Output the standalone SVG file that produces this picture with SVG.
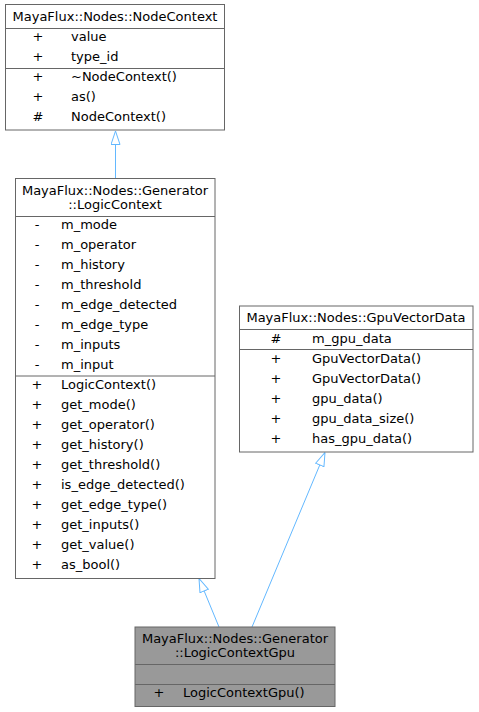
<svg xmlns="http://www.w3.org/2000/svg" width="479" height="712" viewBox="0 0 479 712">
<style>
text{font-family:"DejaVu Sans","Liberation Sans",sans-serif;font-size:13px;fill:#000}
.c{text-anchor:middle}
.box{fill:#fff;stroke:#666;stroke-width:1}
.hl{fill:#999;stroke:#666;stroke-width:1}
.sep{stroke:#666;stroke-width:1}
.edge{fill:none;stroke:#63b8ff;stroke-width:1}
</style>
<defs>
<marker id="inh" viewBox="0 0 14 10" refX="14" refY="5" markerWidth="14" markerHeight="10" markerUnits="userSpaceOnUse" orient="auto">
<path d="M0.5,0.5 L14,5 L0.5,9.5 Z" fill="#fff" stroke="#63b8ff" stroke-width="1"/>
</marker>
</defs>
<rect width="479" height="712" fill="#fff"/>
<g id="connectors">
<line class="edge" x1="115.5" y1="178" x2="115.5" y2="131" marker-end="url(#inh)"/>
<line class="edge" x1="219" y1="627" x2="199" y2="578.5" marker-end="url(#inh)"/>
<line class="edge" x1="252" y1="627" x2="325" y2="452.5" marker-end="url(#inh)"/>
</g>
<g id="NodeContext">
<rect class="box" x="5.5" y="4.5" width="219" height="125.5"/>
<text class="c" x="115" y="21">MayaFlux::Nodes::NodeContext</text>
<line class="sep" x1="5.5" y1="28.5" x2="224.5" y2="28.5"/>
<text class="c" x="38" y="41">+</text><text x="71" y="41">value</text>
<text class="c" x="38" y="61">+</text><text x="71" y="61">type_id</text>
<line class="sep" x1="5.5" y1="68.5" x2="224.5" y2="68.5"/>
<text class="c" x="38" y="81">+</text><text x="71" y="81">~NodeContext()</text>
<text class="c" x="38" y="101">+</text><text x="71" y="101">as()</text>
<text class="c" x="38" y="121">#</text><text x="71" y="121">NodeContext()</text>
</g>
<g id="LogicContext">
<rect class="box" x="15.5" y="178.5" width="199.5" height="400"/>
<text class="c" x="115" y="195">MayaFlux::Nodes::Generator</text>
<text class="c" x="115" y="209">::LogicContext</text>
<line class="sep" x1="15.5" y1="216.5" x2="215" y2="216.5"/>
<text class="c" x="37" y="229">-</text><text x="61" y="229">m_mode</text>
<text class="c" x="37" y="249">-</text><text x="61" y="249">m_operator</text>
<text class="c" x="37" y="269">-</text><text x="61" y="269">m_history</text>
<text class="c" x="37" y="289">-</text><text x="61" y="289">m_threshold</text>
<text class="c" x="37" y="309">-</text><text x="61" y="309">m_edge_detected</text>
<text class="c" x="37" y="329">-</text><text x="61" y="329">m_edge_type</text>
<text class="c" x="37" y="349">-</text><text x="61" y="349">m_inputs</text>
<text class="c" x="37" y="369">-</text><text x="61" y="369">m_input</text>
<line class="sep" x1="15.5" y1="376" x2="215" y2="376"/>
<text class="c" x="37" y="389">+</text><text x="61" y="389">LogicContext()</text>
<text class="c" x="37" y="409">+</text><text x="61" y="409">get_mode()</text>
<text class="c" x="37" y="429">+</text><text x="61" y="429">get_operator()</text>
<text class="c" x="37" y="449">+</text><text x="61" y="449">get_history()</text>
<text class="c" x="37" y="469">+</text><text x="61" y="469">get_threshold()</text>
<text class="c" x="37" y="489">+</text><text x="61" y="489">is_edge_detected()</text>
<text class="c" x="37" y="509">+</text><text x="61" y="509">get_edge_type()</text>
<text class="c" x="37" y="529">+</text><text x="61" y="529">get_inputs()</text>
<text class="c" x="37" y="549">+</text><text x="61" y="549">get_value()</text>
<text class="c" x="37" y="569">+</text><text x="61" y="569">as_bool()</text>
</g>
<g id="GpuVectorData">
<rect class="box" x="239.5" y="306" width="233.5" height="146"/>
<text class="c" x="356" y="322">MayaFlux::Nodes::GpuVectorData</text>
<line class="sep" x1="239.5" y1="329.5" x2="473" y2="329.5"/>
<text class="c" x="276" y="343">#</text><text x="312" y="343">m_gpu_data</text>
<line class="sep" x1="239.5" y1="349.5" x2="473" y2="349.5"/>
<text class="c" x="276" y="363">+</text><text x="312" y="363">GpuVectorData()</text>
<text class="c" x="276" y="383">+</text><text x="312" y="383">GpuVectorData()</text>
<text class="c" x="276" y="403">+</text><text x="312" y="403">gpu_data()</text>
<text class="c" x="276" y="423">+</text><text x="312" y="423">gpu_data_size()</text>
<text class="c" x="276" y="443">+</text><text x="312" y="443">has_gpu_data()</text>
</g>
<g id="LogicContextGpu">
<rect class="hl" x="135" y="627" width="200" height="79.5"/>
<text class="c" x="235" y="643">MayaFlux::Nodes::Generator</text>
<text class="c" x="235" y="657">::LogicContextGpu</text>
<line class="sep" x1="135" y1="664.5" x2="335" y2="664.5"/>
<line class="sep" x1="135" y1="684.5" x2="335" y2="684.5"/>
<text class="c" x="159" y="697">+</text><text x="183" y="697">LogicContextGpu()</text>
</g>
</svg>
